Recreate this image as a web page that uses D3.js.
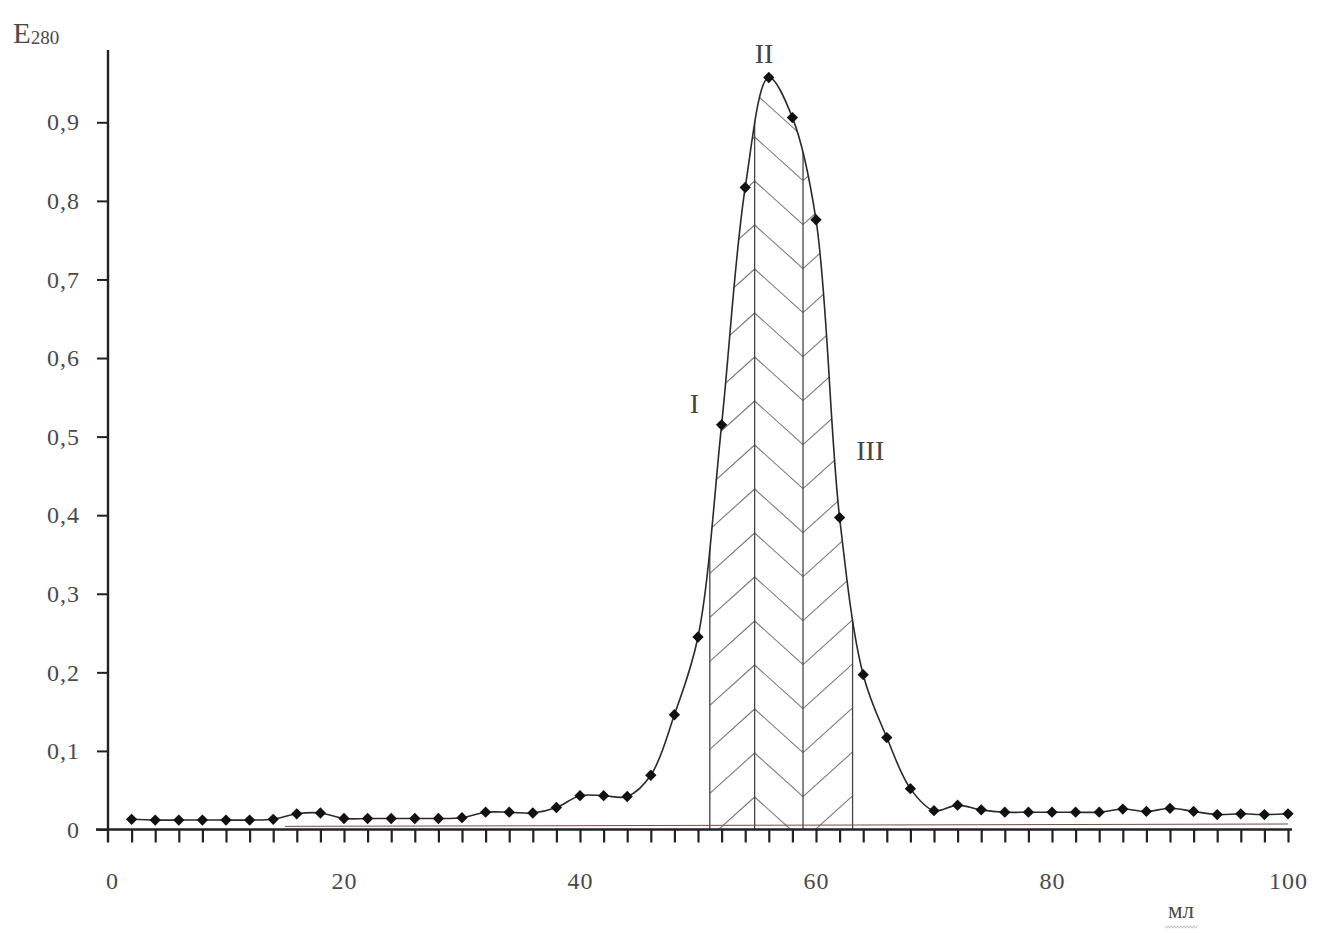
<!DOCTYPE html>
<html>
<head>
<meta charset="utf-8">
<script src="https://cdn.jsdelivr.net/npm/d3@7"></script>
<style>
  html, body { margin: 0; padding: 0; background: #fff; }
  svg { display: block; font-family: "Liberation Serif", "DejaVu Serif", serif; }
</style>
</head>
<body>
<svg id="chart" width="1318" height="933"></svg>
<script>
// Elution volume, ml
const volume = [2, 4, 6, 8, 10, 12, 14, 16, 18, 20, 22, 24, 26, 28, 30, 32, 34, 36, 38, 40,
                42, 44, 46, 48, 50, 52, 54, 56, 58, 60, 62, 64, 66, 68, 70, 72, 74, 76, 78, 80,
                82, 84, 86, 88, 90, 92, 94, 96, 98, 100];
// Absorbance at 280 nm
const absorbance = [0.013, 0.012, 0.012, 0.012, 0.012, 0.012, 0.013, 0.020, 0.021, 0.014,
                    0.014, 0.014, 0.014, 0.014, 0.015, 0.022, 0.022, 0.021, 0.028, 0.043,
                    0.043, 0.042, 0.069, 0.146, 0.245, 0.515, 0.817, 0.957, 0.906, 0.776,
                    0.397, 0.197, 0.117, 0.052, 0.024, 0.031, 0.025, 0.022, 0.022, 0.022,
                    0.022, 0.022, 0.026, 0.023, 0.027, 0.023, 0.019, 0.020, 0.019, 0.020];
// Fraction boundaries (ml) and fraction names
const fractionBounds = [51.0, 54.8, 58.9, 63.1];
const fractionNames = ["I", "II", "III"];
const fractionLabelAt = [[49.7, 0.53], [55.6, 0.975], [64.6, 0.47]];
// Axis ticks
const xLabelTicks = [0, 20, 40, 60, 80, 100];
const xMinorTicks = d3.range(2, 101, 2);
const yTicks = [0, 0.1, 0.2, 0.3, 0.4, 0.5, 0.6, 0.7, 0.8, 0.9];
// Baseline drawn under the profile
const baseline = [[15, 0.004], [100, 0.007]];

const data = volume.map((v, i) => ({ v, a: absorbance[i] }));

const svg = d3.select("#chart");
const x = d3.scaleLinear().domain([0, 100]).range([108, 1288]);
const y = d3.scaleLinear().domain([0, 0.9]).range([829.5, 122.3]);

const curve = d3.curveCatmullRom.alpha(0.5);
const line = d3.line().x(d => x(d.v)).y(d => y(d.a)).curve(curve);
const area = d3.area().x(d => x(d.v)).y0(y(0)).y1(d => y(d.a)).curve(curve);

// Clip: region under the elution profile
const defs = svg.append("defs");
defs.append("clipPath").attr("id", "under-curve")
  .append("path").attr("d", area(data));

// Herringbone hatching of the three fractions
const hatch = svg.append("g").attr("clip-path", "url(#under-curve)")
  .attr("fill", "none").attr("stroke", "#7a7a7a").attr("stroke-width", 1.1);
const [b1, b2, b3, b4] = fractionBounds.map(x);
const step = 44, slope = 0.9, firstApex = y(0) - 32.5;
for (let k = -2; k < 20; k++) {
  const ya = firstApex - k * step;
  const yb = ya + slope * (b3 - b2);
  hatch.append("line").attr("x1", b1).attr("y1", ya + slope * (b2 - b1)).attr("x2", b2).attr("y2", ya);
  hatch.append("line").attr("x1", b2).attr("y1", ya).attr("x2", b3).attr("y2", yb);
  hatch.append("line").attr("x1", b3).attr("y1", yb).attr("x2", b4).attr("y2", yb - slope * (b4 - b3));
}
// Fraction boundary lines
hatch.selectAll("line.bound").data(fractionBounds).join("line")
  .attr("class", "bound")
  .attr("x1", d => x(d)).attr("x2", d => x(d))
  .attr("y1", y(0)).attr("y2", y(1))
  .attr("stroke", "#444").attr("stroke-width", 1.3);

// Baseline
svg.append("line")
  .attr("x1", x(baseline[0][0])).attr("y1", y(baseline[0][1]))
  .attr("x2", x(baseline[1][0])).attr("y2", y(baseline[1][1]))
  .attr("stroke", "#7a4a44").attr("stroke-width", 1);

// X axis: minor ticks every 2 ml
const xAxis = svg.append("g").attr("transform", `translate(0,${y(0)})`)
  .call(d3.axisBottom(x).tickValues(xMinorTicks).tickSize(13).tickSizeOuter(0).tickFormat(""));
xAxis.select(".domain").remove();
xAxis.selectAll(".tick line").attr("stroke", "#222").attr("stroke-width", 2.2);
svg.append("line").attr("x1", 96).attr("x2", 1292).attr("y1", y(0)).attr("y2", y(0))
  .attr("stroke", "#222").attr("stroke-width", 2.4);

// X axis labels
const xLab = svg.append("g").attr("transform", `translate(0,${y(0)})`)
  .call(d3.axisBottom(x).tickValues(xLabelTicks).tickSize(0).tickPadding(42).tickFormat(d3.format("d")));
xLab.select(".domain").remove();
xLab.selectAll("text").attr("font-size", 24).attr("fill", "#4a4a4a")
  .attr("font-family", "Liberation Serif, serif")
  .attr("letter-spacing", 1)
  .attr("dx", d => d === 0 ? 4 : 0);

// Y axis
const yAxis = svg.append("g").attr("transform", `translate(${x(0)},0)`)
  .call(d3.axisLeft(y).tickValues(yTicks).tickSize(11).tickSizeOuter(0).tickPadding(17)
    .tickFormat(d => d3.format(".1~f")(d).replace(".", ",")));
yAxis.select(".domain").remove();
yAxis.selectAll(".tick line").attr("stroke", "#222").attr("stroke-width", 2);
yAxis.selectAll("text").attr("font-size", 24).attr("fill", "#4a4a4a")
  .attr("font-family", "Liberation Serif, serif")
  .attr("letter-spacing", 1);
svg.append("line").attr("x1", x(0)).attr("x2", x(0)).attr("y1", 50).attr("y2", y(0) + 13)
  .attr("stroke", "#222").attr("stroke-width", 2.4);

// Elution profile
svg.append("path").attr("d", line(data))
  .attr("fill", "none").attr("stroke", "#2a2a2a").attr("stroke-width", 1.6);
svg.append("g").selectAll("path").data(data).join("path")
  .attr("transform", d => `translate(${x(d.v)},${y(d.a)}) rotate(45)`)
  .attr("d", d3.symbol(d3.symbolSquare, 64))
  .attr("fill", "#111");

// Fraction labels
svg.append("g").selectAll("text").data(fractionNames).join("text")
  .attr("x", (d, i) => x(fractionLabelAt[i][0]))
  .attr("y", (d, i) => y(fractionLabelAt[i][1]))
  .attr("text-anchor", "middle")
  .attr("font-size", 28).attr("fill", "#444")
  .text(d => d);

// Axis titles
const yTitle = svg.append("text").attr("x", 13).attr("y", 43).attr("fill", "#4a4a4a").attr("font-size", 29);
yTitle.append("tspan").text("E");
yTitle.append("tspan").attr("font-size", 19).attr("dy", 1).text("280");

svg.append("text").attr("x", 1181).attr("y", 918).attr("text-anchor", "middle")
  .attr("font-size", 23).attr("fill", "#4a4a4a").text("мл");
// squiggle under the unit
const squiggle = d3.range(0, 21).map(i => [1165 + i * 1.6, 927 + (i % 2 ? 1.2 : -1.2)]);
svg.append("path").attr("d", d3.line()(squiggle))
  .attr("fill", "none").attr("stroke", "#b0b0b0").attr("stroke-width", 0.8);
</script>
</body>
</html>
